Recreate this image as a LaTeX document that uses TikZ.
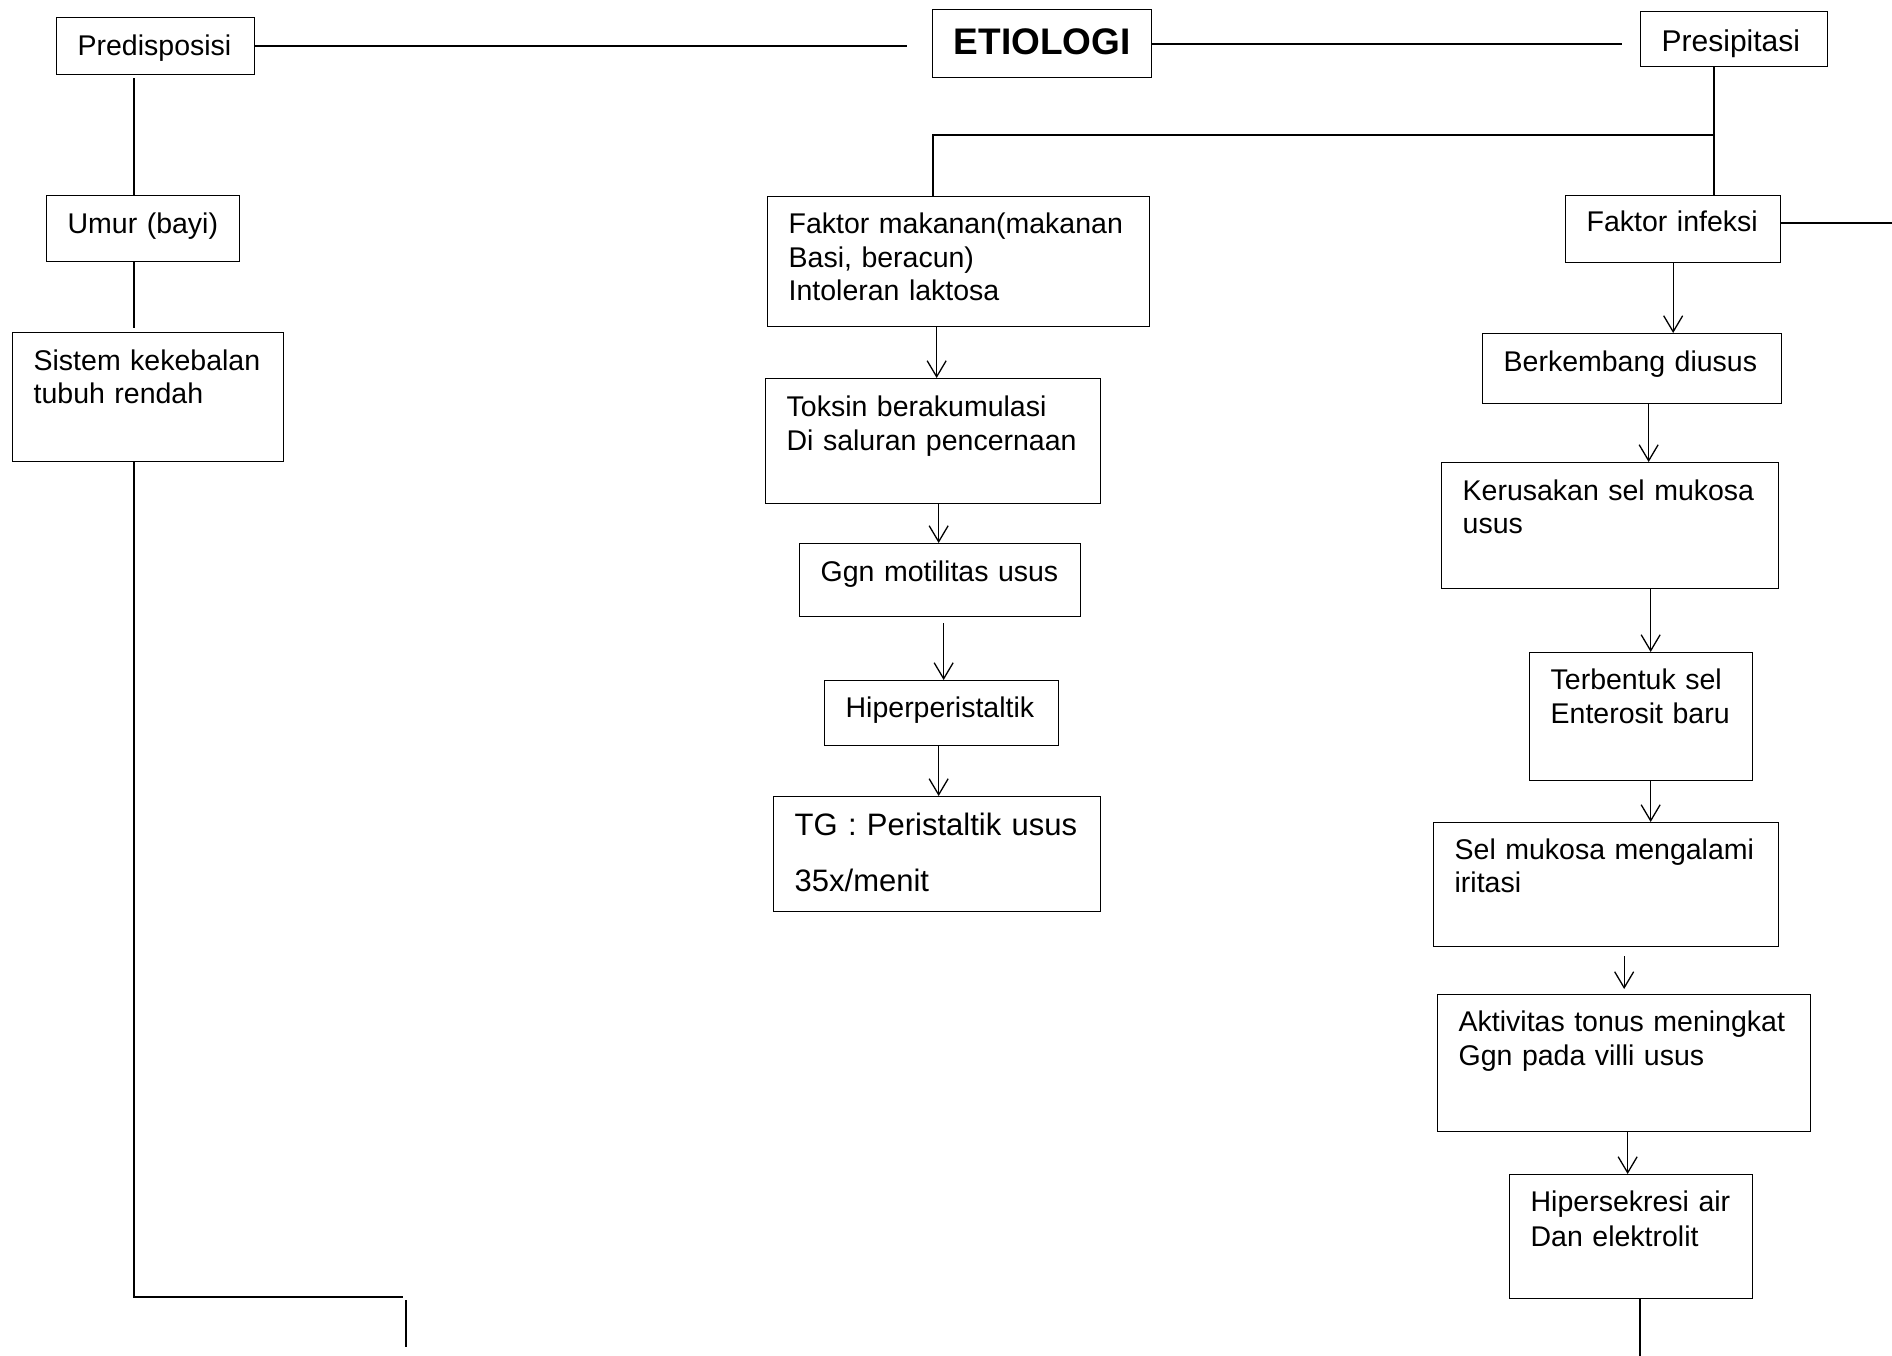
\documentclass[tikz,border=0pt]{standalone}
\usepackage{fontspec}
\setmainfont{Liberation Sans}
\usetikzlibrary{arrows.meta, positioning, calc}
\tikzstyle{box} = [rectangle, draw, line width=1.3pt, anchor=north west, align=left, inner xsep=21pt, inner ysep=0pt, font=\fontsize{28.5}{34}\selectfont]
\tikzstyle{link} = [line width=1.5pt]
\tikzstyle{bar} = [line width=1.8pt]
\tikzstyle{arrow} = [-{Straight Barb[length=16pt, width=19pt]}, line width=1.3pt]

\begin{document}
\begin{tikzpicture}[x=1pt, y=-1pt]
    \useasboundingbox (0,0) rectangle (1892,1356);

    % Top row
    \node[box, text width=156pt, text height=38pt, text depth=19pt] (predis) at (56,17) {Predisposisi};
    \node[box, inner xsep=10pt, text width=199pt, text height=45pt, text depth=23pt, align=center, font=\fontsize{37}{42}\selectfont\bfseries] (etio) at (932,9) {ETIOLOGI};
    \node[box, text width=145pt, text height=40pt, text depth=15pt, font=\fontsize{30}{36}\selectfont] (presip) at (1640,11) {Presipitasi};

    % Predisposisi branch
    \node[box, text width=151pt, text height=38pt, text depth=28pt] (umur) at (46,195) {Umur~(bayi)};
    \node[box, text width=229pt, text height=38pt, text depth=91pt] (sistem) at (12,332) {Sistem kekebalan\\[-1pt]tubuh rendah};

    % Makanan branch
    \node[box, text width=340pt, text height=37pt, text depth=93pt] (makanan) at (767,196) {Faktor makanan(makanan\\[-0.5pt]Basi, beracun)\\[-0.5pt]Intoleran laktosa};
    \node[box, text width=293pt, text height=38pt, text depth=87pt] (toksin) at (765,378) {Toksin berakumulasi\\Di saluran pencernaan};
    \node[box, text width=239pt, text height=38pt, text depth=35pt] (ggn) at (799,543) {Ggn motilitas usus};
    \node[box, text width=192pt, text height=37pt, text depth=28pt] (hiper) at (824,680) {Hiperperistaltik};
    \node[box, text width=285pt, text height=39pt, text depth=76pt, font=\fontsize{31}{37}\selectfont] (tg) at (773,796) {TG : Peristaltik usus\\[19pt]35x/menit};

    % Infeksi branch
    \node[box, text width=173pt, text height=36pt, text depth=31pt] (infeksi) at (1565,195) {Faktor infeksi};
    \node[box, text width=257pt, text height=38pt, text depth=32pt] (berk) at (1482,333) {Berkembang~diusus};
    \node[box, text width=295pt, text height=38pt, text depth=88pt] (keru) at (1441,462) {Kerusakan sel mukosa\\[-1pt]usus};
    \node[box, text width=181pt, text height=37pt, text depth=91pt] (terb) at (1529,652) {Terbentuk sel\\Enterosit baru};
    \node[box, text width=303pt, text height=37pt, text depth=87pt] (sel) at (1433,822) {Sel mukosa mengalami\\[-1.5pt]iritasi};
    \node[box, text width=331pt, text height=37pt, text depth=100pt] (akt) at (1437,994) {Aktivitas tonus meningkat\\Ggn pada villi usus};
    \node[box, text width=201pt, text height=37pt, text depth=87pt] (hipsek) at (1509,1174) {Hipersekresi~air\\[0.5pt]Dan elektrolit};

    % Free ends
    \coordinate (split) at ([xshift=-20pt, yshift=-68pt]presip.south);
    \coordinate (edgeR) at (1892,223);
    \coordinate (edgeB) at (1640,1356);
    \coordinate (botR) at (403,1297);
    \coordinate (stubT) at (406,1300);
    \coordinate (stubB) at (406,1347);

    % Top lines
    \draw[bar, shorten >=25pt] (predis.east) -- (predis.east -| etio.west);
    \draw[bar, shorten >=18pt] (etio.east) -- (etio.east -| presip.west);
    \draw[link] ([xshift=-20pt]presip.south) -- ([xshift=-20pt]presip.south |- infeksi.north);
    \draw[bar] (split) -| ([xshift=-26pt]makanan.north);

    % Predisposisi lines
    \draw[link, shorten <=3pt] ([xshift=-9pt]umur.north |- predis.south) -- ([xshift=-9pt]umur.north);
    \draw[link, shorten >=4pt] ([xshift=-9pt]umur.south) -- ([xshift=-9pt]umur.south |- sistem.north);
    \draw[link] ([xshift=-14pt]sistem.south) |- (botR);
    \draw[link] (stubT) -- (stubB);

    % Makanan arrows
    \draw[arrow] ([xshift=3.5pt]toksin.north |- makanan.south) -- ([xshift=3.5pt]toksin.north);
    \draw[arrow] ([xshift=-1.5pt]ggn.north |- toksin.south) -- ([xshift=-1.5pt]ggn.north);
    \draw[arrow, shorten <=6pt] ([xshift=2pt]hiper.north |- ggn.south) -- ([xshift=2pt]hiper.north);
    \draw[arrow] ([xshift=1.5pt]tg.north |- hiper.south) -- ([xshift=1.5pt]tg.north);

    % Infeksi arrows
    \draw[link] (infeksi.east |- edgeR) -- (edgeR);
    \draw[arrow] (infeksi.south) -- (infeksi.south |- berk.north);
    \draw[arrow] ([xshift=16.5pt]berk.south) -- ([xshift=16.5pt]berk.south |- keru.north);
    \draw[arrow] ([xshift=9.5pt]terb.north |- keru.south) -- ([xshift=9.5pt]terb.north);
    \draw[arrow] ([xshift=9.5pt]terb.south) -- ([xshift=9.5pt]terb.south |- sel.north);
    \draw[arrow, shorten <=9pt, shorten >=5pt] (akt.north |- sel.south) -- (akt.north);
    \draw[arrow] ([xshift=3.5pt]akt.south) -- ([xshift=3.5pt]akt.south |- hipsek.north);
    \draw[link] (hipsek.south -| edgeB) -- (edgeB);
\end{tikzpicture}
\end{document}
